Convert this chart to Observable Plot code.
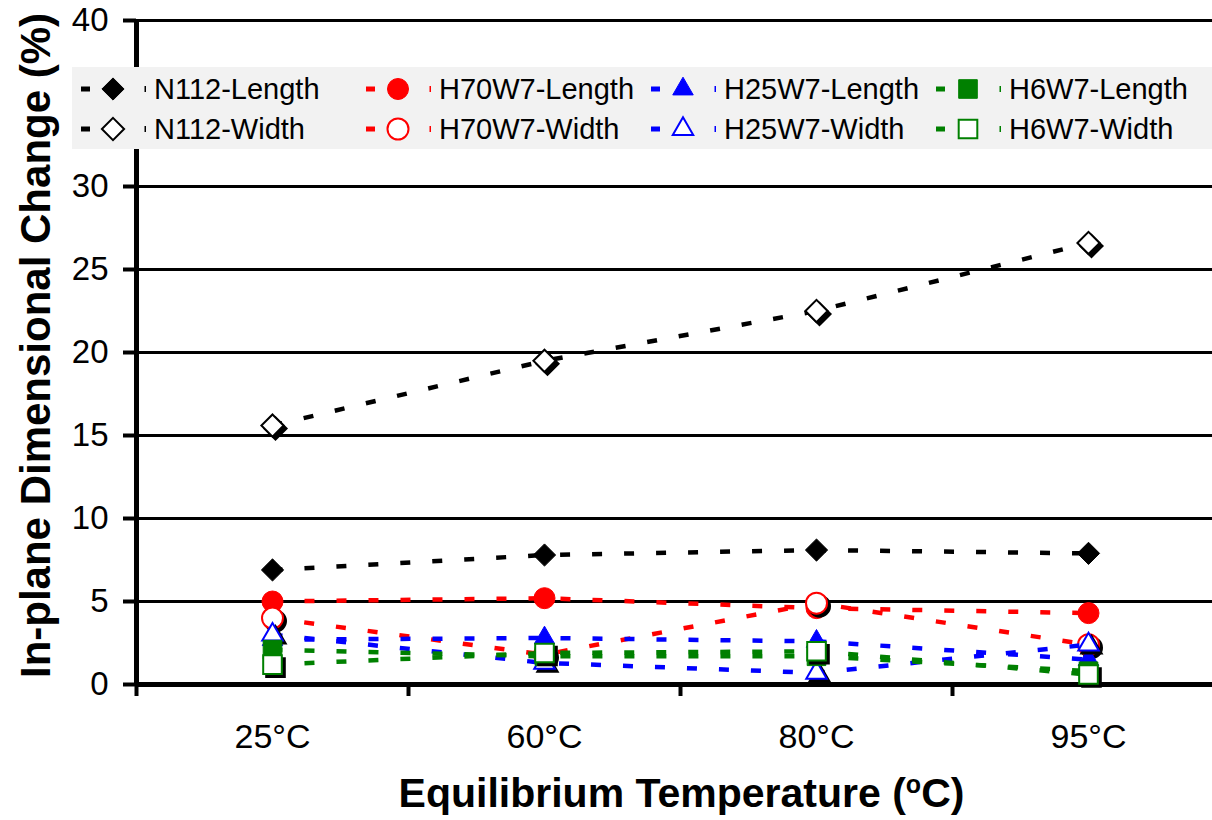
<!DOCTYPE html>
<html><head><meta charset="utf-8">
<script src="https://cdn.jsdelivr.net/npm/d3@7"></script>
<script src="https://cdn.jsdelivr.net/npm/@observablehq/plot@0.6"></script>
<style>
html,body{margin:0;padding:0;background:#fff;overflow:hidden;}
#wrap{position:relative;width:1212px;height:820px;font-family:"Liberation Sans",Arial,sans-serif;}
#legend{position:absolute;left:72px;top:67px;width:1140px;height:82px;background:#f2f2f2;display:grid;grid-template-columns:repeat(4,285px);grid-template-rows:40px 40px;padding-left:9px;padding-top:2px;box-sizing:border-box;}
.item{display:flex;align-items:center;font-size:29px;color:#000;white-space:nowrap;height:40px;}
.item svg{flex:none;display:block;}
</style></head><body><div id="wrap"><div id="chart"></div><div id="legend"></div></div>
<script>
const temps = ["25°C", "60°C", "80°C", "95°C"];
const n112Length = [6.9, 7.8, 8.1, 7.9];
const n112Width = [15.6, 19.5, 22.5, 26.6];
const h70w7Length = [5.0, 5.2, 4.6, 4.3];
const h70w7Width = [4.0, 1.8, 4.9, 2.4];
const h25w7Length = [2.7, 2.8, 2.6, 1.5];
const h25w7Width = [3.0, 1.3, 0.7, 2.4];
const h6w7Length = [2.1, 1.7, 1.7, 0.8];
const h6w7Width = [1.2, 1.9, 2.0, 0.6];
const yTicks = [0, 5, 10, 15, 20, 25, 30, 35, 40];
const xTitle = "Equilibrium Temperature (oC)";
const yTitle = "In-plane Dimensional Change (%)";

const membranes = [
  {membrane: "N112", color: "#000000", symbol: "diamond2", r: 10},
  {membrane: "H70W7", color: "#ff0000", symbol: "circle", r: 10.5},
  {membrane: "H25W7", color: "#0000ff", symbol: "triangle", r: 7.6},
  {membrane: "H6W7", color: "#008000", symbol: "square", r: 10.5}
];
const seriesValues = {
  "N112-Length": n112Length, "N112-Width": n112Width,
  "H70W7-Length": h70w7Length, "H70W7-Width": h70w7Width,
  "H25W7-Length": h25w7Length, "H25W7-Width": h25w7Width,
  "H6W7-Length": h6w7Length, "H6W7-Width": h6w7Width
};
const series = [];
for (const m of membranes) {
  for (const kind of ["Length", "Width"]) {
    const name = `${m.membrane}-${kind}`;
    series.push({...m, name, open: kind === "Width",
      data: seriesValues[name].map((v, i) => ({i, temp: temps[i], v}))});
  }
}

const marks = [
  Plot.ruleY(yTicks.filter(v => v > 0), {stroke: "black", strokeWidth: 3}),
  Plot.ruleX([0], {stroke: "black", strokeWidth: 5}),
  Plot.ruleY([0], {stroke: "black", strokeWidth: 5}),
  Plot.axisY({ticks: yTicks, tickSize: 13, tickPadding: 15, strokeWidth: 4, label: null, fontSize: 33}),
  Plot.axisX({ticks: [0, 1, 2, 3, 4], tickSize: 12, strokeWidth: 4, tickFormat: () => "", label: null}),
  Plot.axisX({ticks: temps.map((_, i) => i + 0.5), tickSize: 0, tickPadding: 39,
    tickFormat: d => temps[Math.floor(d)], label: null, fontSize: 34})
];
for (const s of series) {
  marks.push(Plot.lineY(s.data, {x: d => d.i + 0.5, y: "v", stroke: s.color, strokeWidth: 4.5,
    strokeDasharray: "10,22", strokeLinecap: "butt"}));
  if (s.open) {
    marks.push(Plot.dot(s.data, {x: d => d.i + 0.5, y: "v", symbol: () => s.symbol, r: s.r,
      fill: "black", stroke: "black", strokeWidth: 2, dx: 3, dy: 3}));
  }
  marks.push(Plot.dot(s.data, {x: d => d.i + 0.5, y: "v", symbol: () => s.symbol, r: s.r,
    fill: s.open ? "white" : s.color, stroke: s.color, strokeWidth: s.open ? 2 : 1}));
}
marks.push(Plot.text([xTitle], {text: d => d, frameAnchor: "bottom", dx: 7, dy: 122,
  fontSize: 41, fontWeight: "bold", textAnchor: "middle"}));
marks.push(Plot.text([yTitle], {text: d => d, frameAnchor: "left", dx: -100, dy: -7,
  rotate: -90, fontSize: 42, fontWeight: "bold", textAnchor: "middle"}));

const chart = Plot.plot({
  width: 1212, height: 820,
  marginLeft: 136, marginRight: 0, marginTop: 20, marginBottom: 136,
  x: {type: "linear", domain: [0, 4], range: [136, 1224]},
  y: {domain: [0, 40], range: [684, 20]},
  symbol: {type: "identity"},
  style: {fontFamily: "Liberation Sans, Arial, sans-serif", fontSize: "32px", background: "white", color: "black"},
  marks
});
document.getElementById("chart").appendChild(chart);

// superscript "o" in the x title
d3.select(chart).selectAll("text").filter(function() { return this.textContent === xTitle; })
  .each(function() {
    const t = d3.select(this);
    t.text(null);
    t.append("tspan").text("Equilibrium Temperature (");
    t.append("tspan").attr("dy", -14).attr("font-size", 25).text("o");
    t.append("tspan").attr("dy", 14).text("C)");
  });

// legend
const legend = d3.select("#legend");
const order = [...series.filter(s => !s.open), ...series.filter(s => s.open)];
const typeMap = {diamond2: d3.symbolDiamond2, circle: d3.symbolCircle, triangle: d3.symbolTriangle, square: d3.symbolSquare};
for (const s of order) {
  const item = legend.append("div").attr("class", "item");
  const sw = item.append("svg").attr("width", 73).attr("height", 40);
  sw.append("rect").attr("x", 0).attr("y", 17.5).attr("width", 9).attr("height", 5).attr("fill", s.color);
  sw.append("path").attr("transform", "translate(32,20)")
    .attr("d", d3.symbol(typeMap[s.symbol], Math.PI * s.r * s.r)())
    .attr("fill", s.open ? "white" : s.color).attr("stroke", s.color).attr("stroke-width", s.open ? 2 : 1);
  sw.append("rect").attr("x", 63.5).attr("y", 17).attr("width", 1.5).attr("height", 6).attr("fill", s.color);
  item.append("span").text(s.name);
}
</script></body></html>
